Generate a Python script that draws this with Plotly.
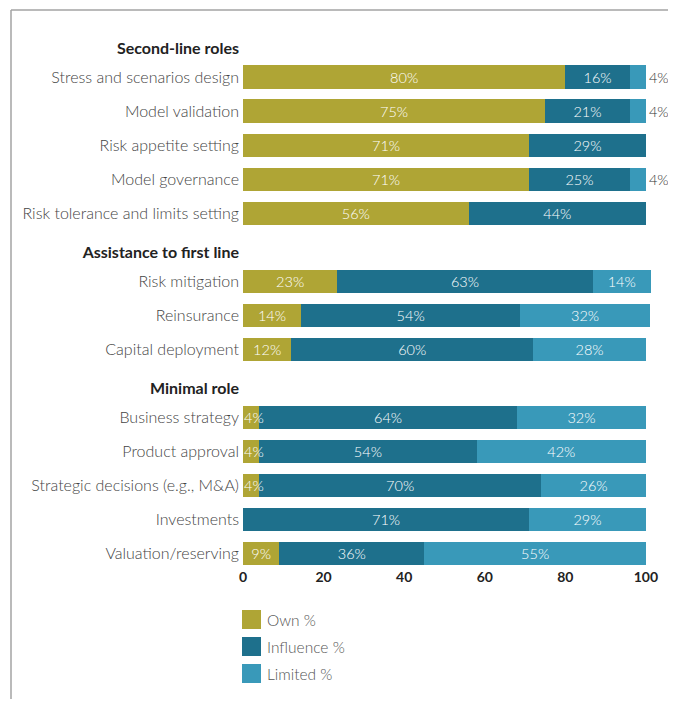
import plotly.graph_objects as go

# ---- data ----
groups = ["Second-line roles", "Assistance to first line", "Minimal role"]
categories = [
    ["Stress and scenarios design", "Model validation", "Risk appetite setting",
     "Model governance", "Risk tolerance and limits setting"],
    ["Risk mitigation", "Reinsurance", "Capital deployment"],
    ["Business strategy", "Product approval", "Strategic decisions (e.g., M&A)",
     "Investments", "Valuation/reserving"],
]
own = [[80, 75, 71, 71, 56], [23.4, 14.4, 12], [4, 4, 4, 0, 9]]
influence = [[16, 21, 29, 25, 44], [63.4, 54.4, 60], [64, 54, 70, 71, 36]]
limited = [[4, 4, 0, 4, 0], [14.4, 32.2, 28], [32, 42, 26, 29, 55]]
series_names = ["Own %", "Influence %", "Limited %"]
x_ticks = [0, 20, 40, 60, 80, 100]

colors = ["#AFA535", "#1E708C", "#3999B9"]
FONT = "Lato"
OFF = 8  # page body margin
W, H = 676 - OFF, 707 - 2 * OFF
ML = 243 - OFF
MR = W - (654 - OFF)
MT = 26 - OFF
MB = H - (567 - OFF)
TXT = 14.5

# ---- layout positions (rows, with a header slot per group) ----
ypos, vals = [], {0: [], 1: [], 2: []}
tickv, tickt = [], []
start = 0
for g, cats in enumerate(categories):
    tickv.append(start - 0.85)
    tickt.append(f"<b><span style='color:#222'>{groups[g]}</span></b>")
    for i, c in enumerate(cats):
        ypos.append(start + i)
        tickv.append(start + i)
        tickt.append(c)
        vals[0].append(own[g][i])
        vals[1].append(influence[g][i])
        vals[2].append(limited[g][i])
    start += len(cats) + 1

fig = go.Figure()
annotations = []
for k, name in enumerate(series_names):
    v = vals[k]
    txt = [f"{round(x)}%" if x > 0 else "" for x in v]
    if k == 2:
        pos = ["outside" if 0 < x < 8 else "inside" for x in v]
    else:
        pos = ["none" if x < 8 else "inside" for x in v]
        if k == 0:
            for x, y in zip(v, ypos):
                if 0 < x < 8:
                    annotations.append(dict(x=0, y=y, xref="x", yref="y", text=f"{round(x)}%",
                                            showarrow=False, xanchor="left", yanchor="middle",
                                            xshift=-1,
                                            font=dict(color="white", size=TXT, family=FONT, weight=300)))
    fig.add_trace(go.Bar(
        x=v, y=ypos, orientation="h", name=name,
        marker=dict(color=colors[k], line=dict(width=0)),
        width=0.68, text=txt, textposition=pos, textangle=0,
        insidetextanchor="middle",
        insidetextfont=dict(color="white", size=TXT, family=FONT, weight=300),
        outsidetextfont=dict(color="#333", size=TXT, family=FONT, weight=300),
        cliponaxis=False, showlegend=False, hoverinfo="skip",
    ))

pw = W - ML - MR
ph = H - MT - MB
def px(x):  # window pixel -> paper
    return (x - OFF - ML) / pw
def py(y):
    return (H - MB - (y - OFF)) / ph

shapes = [
    dict(type="line", xref="paper", yref="paper", x0=px(11), x1=px(W + 20), y0=py(10), y1=py(10),
         line=dict(color="#a3a3a3", width=1.5)),
    dict(type="line", xref="paper", yref="paper", x0=px(11), x1=px(11), y0=py(10), y1=py(H + 20),
         line=dict(color="#a3a3a3", width=1.5)),
]
for k, name in enumerate(series_names):
    top = 610 + 27 * k
    shapes.append(dict(type="rect", xref="paper", yref="paper",
                       x0=px(242), x1=px(261), y0=py(top), y1=py(top + 19),
                       fillcolor=colors[k], line=dict(width=0)))
    annotations.append(dict(xref="paper", yref="paper", x=px(265), y=py(top + 9.5),
                            text=name, showarrow=False, xanchor="left", yanchor="middle",
                            font=dict(family=FONT, size=15.5, color="#555", weight=300)))

fig.update_layout(
    width=W, height=H, barmode="stack",
    margin=dict(l=ML, r=MR, t=MT, b=MB),
    paper_bgcolor="white", plot_bgcolor="white",
    font=dict(family=FONT, color="#555"),
    shapes=shapes, annotations=annotations,
    xaxis=dict(range=[0, 102], tickvals=x_ticks, showgrid=False, zeroline=False,
               showline=False, ticks="",
               tickfont=dict(family=FONT, size=14, color="#222", weight="bold")),
    yaxis=dict(range=[14.4, -1.5], tickvals=tickv, ticktext=tickt, showgrid=False,
               zeroline=False, showline=False, ticks="", ticklabelstandoff=3,
               tickfont=dict(family=FONT, size=16, color="#444", weight=300)),
)
fig.write_html("out.html")
